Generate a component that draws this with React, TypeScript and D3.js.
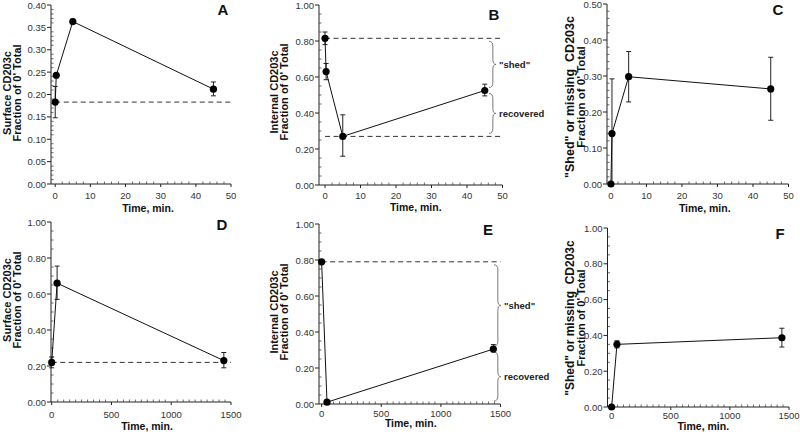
import React from 'react';
import * as d3 from 'd3';

// ---- Data ----
const timesA = [0, 0.3, 5, 45];
const meanA = [0.183, 0.243, 0.363, 0.212];
const loA = [0.148, 0.243, 0.360, 0.197];
const hiA = [0.218, 0.243, 0.368, 0.228];
const refA = [0.183];

const timesB = [0, 0.3, 5, 45];
const meanB = [0.815, 0.63, 0.27, 0.525];
const loB = [0.78, 0.585, 0.16, 0.495];
const hiB = [0.85, 0.675, 0.39, 0.56];
const refB = [0.815, 0.27];

const timesC = [0, 0.3, 5, 45];
const meanC = [0.0, 0.14, 0.298, 0.264];
const loC = [0.0, 0.0, 0.228, 0.177];
const hiC = [0.0, 0.292, 0.368, 0.352];
const refC: number[] = [];

const timesD = [0, 45, 1440];
const meanD = [0.22, 0.66, 0.23];
const loD = [0.19, 0.57, 0.19];
const hiD = [0.25, 0.755, 0.275];
const refD = [0.22];

const timesE = [0, 45, 1440];
const meanE = [0.79, 0.01, 0.305];
const loE = [0.79, 0.01, 0.29];
const hiE = [0.79, 0.01, 0.33];
const refE = [0.79];

const timesF = [0, 45, 1440];
const meanF = [0.0, 0.35, 0.387];
const loF = [0.0, 0.33, 0.335];
const hiF = [0.0, 0.37, 0.44];
const refF: number[] = [];

const xTicksShort = [0, 10, 20, 30, 40, 50];
const xTicksLong = [0, 500, 1000, 1500];

// brace ranges [top value, bottom value, label]
const bracesB: [number, number, string][] = [[0.815, 0.525, '"shed"'], [0.525, 0.27, 'recovered']];
const bracesE: [number, number, string][] = [[0.79, 0.305, '"shed"'], [0.305, 0.0, 'recovered']];

const FONT = 'Liberation Sans, Arial, Helvetica, sans-serif';

type Panel = {
  letter: string; left: number; right: number; top: number; bottom: number;
  xDom: [number, number]; xMax: number; yMax: number; yStep: number; yMinor: number;
  xTicks: number[]; xMinor: number;
  times: number[]; mean: number[]; lo: number[]; hi: number[]; refs: number[];
  braces?: [number, number, string][]; braceX?: number;
  ylab: string[]; ylabX: number[]; ylabY: number; ylabSize: number[];
  letterX: number; letterY: number; tickDy: number; titleDy: number; titleDx: number;
};

const panels: Panel[] = [
  { letter: 'A', left: 51, right: 231, top: 5, bottom: 184, xDom: [-1.2, 50], xMax: 50, yMax: 0.4, yStep: 0.05, yMinor: 0.01,
    xTicks: xTicksShort, xMinor: 2, times: timesA, mean: meanA, lo: loA, hi: hiA, refs: refA,
    ylab: ['Surface CD203c', "Fraction of 0' Total"], ylabX: [7, 17], ylabY: 93, ylabSize: [11, 11],
    letterX: 223, letterY: 9, tickDy: 11, titleDy: 24, titleDx: 7 },
  { letter: 'B', left: 319, right: 502.5, top: 5, bottom: 185, xDom: [-1.7, 50], xMax: 50, yMax: 1, yStep: 0.2, yMinor: 0.05,
    xTicks: xTicksShort, xMinor: 2, times: timesB, mean: meanB, lo: loB, hi: hiB, refs: refB,
    braces: bracesB, braceX: 489,
    ylab: ['Internal CD203c', "Fraction of 0' Total"], ylabX: [274, 284], ylabY: 92, ylabSize: [11, 11],
    letterX: 494, letterY: 14, tickDy: 10, titleDy: 22, titleDx: 5 },
  { letter: 'C', left: 607, right: 788.5, top: 4, bottom: 184, xDom: [-1.1, 50], xMax: 50, yMax: 0.5, yStep: 0.1, yMinor: 0.02,
    xTicks: xTicksShort, xMinor: 2, times: timesC, mean: meanC, lo: loC, hi: hiC, refs: refC,
    ylab: ['"Shed" or missing  CD203c', "Fraction of 0' Total"], ylabX: [570, 581], ylabY: 97, ylabSize: [12.5, 11.5],
    letterX: 778, letterY: 9, tickDy: 11, titleDy: 24, titleDx: 7 },
  { letter: 'D', left: 51, right: 231, top: 222, bottom: 402, xDom: [-6, 1500], xMax: 1500, yMax: 1, yStep: 0.2, yMinor: 0.05,
    xTicks: xTicksLong, xMinor: 50, times: timesD, mean: meanD, lo: loD, hi: hiD, refs: refD,
    ylab: ['Surface CD203c', "Fraction of 0' Total"], ylabX: [7, 17], ylabY: 300, ylabSize: [11, 11],
    letterX: 222, letterY: 224, tickDy: 12, titleDy: 24, titleDx: 6 },
  { letter: 'E', left: 319, right: 500.5, top: 224, bottom: 404, xDom: [-22, 1500], xMax: 1500, yMax: 1, yStep: 0.2, yMinor: 0.05,
    xTicks: xTicksLong, xMinor: 50, times: timesE, mean: meanE, lo: loE, hi: hiE, refs: refE,
    braces: bracesE, braceX: 494,
    ylab: ['Internal CD203c', "Fraction of 0' Total"], ylabX: [274, 284], ylabY: 312, ylabSize: [11, 11],
    letterX: 488, letterY: 229, tickDy: 9, titleDy: 19, titleDx: 1 },
  { letter: 'F', left: 607.5, right: 789, top: 228, bottom: 407, xDom: [-35, 1500], xMax: 1500, yMax: 1, yStep: 0.2, yMinor: 0.05,
    xTicks: xTicksLong, xMinor: 50, times: timesF, mean: meanF, lo: loF, hi: hiF, refs: refF,
    ylab: ['"Shed" or missing  CD203c', "Fraction of 0' Total"], ylabX: [570, 581], ylabY: 318, ylabSize: [12, 11],
    letterX: 780, letterY: 233, tickDy: 8.5, titleDy: 18.5, titleDx: 5 },
];

function bracePath(x: number, yT: number, yB: number, w: number) {
  const yM = (yT + yB) / 2;
  const c = Math.min(5, (yB - yT) / 6);
  const xm = x + w * 0.55;
  return `M${x},${yT} Q${xm},${yT} ${xm},${yT + c} L${xm},${yM - c} Q${xm},${yM} ${x + w},${yM} Q${xm},${yM} ${xm},${yM + c} L${xm},${yB - c} Q${xm},${yB} ${x},${yB}`;
}

function PanelView({ p }: { p: Panel }) {
  const x = d3.scaleLinear().domain(p.xDom).range([p.left, p.right]);
  const y = d3.scaleLinear().domain([0, p.yMax]).range([p.bottom, p.top]);
  const nMaj = Math.round(p.yMax / p.yStep);
  const yMaj = d3.range(nMaj + 1).map(i => i * p.yStep);
  const nMin = Math.round(p.yMax / p.yMinor);
  const per = Math.round(p.yStep / p.yMinor);
  const yMin = d3.range(nMin + 1).filter(i => i % per !== 0).map(i => i * p.yMinor);
  const nx = Math.round(p.xMax / p.xMinor);
  const xMin = d3.range(nx + 1).map(i => i * p.xMinor).filter(v => !p.xTicks.includes(v));
  const line = d3.line<number>().x((d, i) => x(p.times[i])).y(d => y(d));
  const fmt = d3.format('.2f');
  const midX = (p.left + p.right) / 2 + p.titleDx;
  return (
    <g>
      <line x1={p.left} x2={p.left} y1={p.top} y2={p.bottom} stroke="#222" strokeWidth={1} />
      <line x1={p.left} x2={p.right} y1={p.bottom} y2={p.bottom} stroke="#222" strokeWidth={1} />
      {yMaj.map(v => (
        <g key={'ym' + v}>
          <line x1={p.left - 4} x2={p.left} y1={y(v)} y2={y(v)} stroke="#222" />
          <text x={p.left - 5} y={y(v)} textAnchor="end" dominantBaseline="central" fontSize={9.5} fill="#333" fontFamily={FONT}>{fmt(v)}</text>
        </g>
      ))}
      {yMin.map(v => <line key={'yn' + v} x1={p.left} x2={p.left + 2.5} y1={y(v)} y2={y(v)} stroke="#444" strokeWidth={0.8} />)}
      {p.xTicks.map(v => (
        <g key={'xm' + v}>
          <line x1={x(v)} x2={x(v)} y1={p.bottom} y2={p.bottom + 3} stroke="#222" />
          <text x={x(v)} y={p.bottom + p.tickDy} textAnchor="middle" dominantBaseline="central" fontSize={9.5} fill="#333" fontFamily={FONT}>{v}</text>
        </g>
      ))}
      {xMin.map(v => <line key={'xn' + v} x1={x(v)} x2={x(v)} y1={p.bottom} y2={p.bottom - 2.5} stroke="#444" strokeWidth={0.8} />)}
      <text x={midX} y={p.bottom + p.titleDy} textAnchor="middle" dominantBaseline="central" fontSize={10.5} fontWeight="bold" fill="#111" fontFamily={FONT}>Time, min.</text>
      {p.ylab.map((t, i) => (
        <text key={'yl' + i} transform={`translate(${p.ylabX[i]},${p.ylabY}) rotate(-90)`} textAnchor="middle" dominantBaseline="central"
          fontSize={p.ylabSize[i]} fontWeight="bold" fill="#111" fontFamily={FONT} style={{ whiteSpace: 'pre' }}>{t}</text>
      ))}
      <text x={p.letterX} y={p.letterY} textAnchor="middle" dominantBaseline="central" fontSize={15} fontWeight="bold" fill="#111" fontFamily={FONT}>{p.letter}</text>
      {p.refs.map((r, i) => (
        <line key={'r' + i} x1={x(0)} x2={p.right} y1={y(r)} y2={y(r)} stroke="#333" strokeWidth={1} strokeDasharray="5,3.5" />
      ))}
      {p.braces && p.braces.map((b, i) => {
        const yT = y(b[0]) + 3, yB = y(b[1]) - 3;
        return (
          <g key={'b' + i}>
            <path d={bracePath(p.braceX!, yT, yB, 7)} fill="none" stroke="#777" strokeWidth={1} />
            <text x={p.braceX! + 10} y={(yT + yB) / 2} dominantBaseline="central" fontSize={9.5} fontWeight="bold" fill="#222" fontFamily={FONT}>{b[2]}</text>
          </g>
        );
      })}
      {p.times.map((t, i) => (
        p.hi[i] > p.lo[i] ? (
          <g key={'e' + i} stroke="#222" strokeWidth={1}>
            <line x1={x(t)} x2={x(t)} y1={y(p.lo[i])} y2={y(p.hi[i])} />
            <line x1={x(t) - 2.5} x2={x(t) + 2.5} y1={y(p.lo[i])} y2={y(p.lo[i])} />
            <line x1={x(t) - 2.5} x2={x(t) + 2.5} y1={y(p.hi[i])} y2={y(p.hi[i])} />
          </g>
        ) : null
      ))}
      <path d={line(p.mean) || ''} fill="none" stroke="#111" strokeWidth={1} />
      {p.times.map((t, i) => <circle key={'c' + i} cx={x(t)} cy={y(p.mean[i])} r={3.6} fill="#000" />)}
    </g>
  );
}

export default function App() {
  return (
    <svg width={800} height={436} style={{ position: 'absolute', left: 0, top: 0, background: '#fff' }}>
      <rect width={800} height={436} fill="#fff" />
      {panels.map(p => <PanelView key={p.letter} p={p} />)}
    </svg>
  );
}
